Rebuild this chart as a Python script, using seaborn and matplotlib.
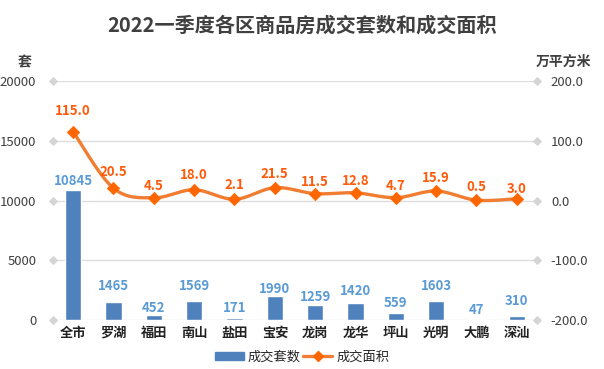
import numpy as np
import pandas as pd
import matplotlib
matplotlib.use("Agg")
import matplotlib.pyplot as plt
import matplotlib.transforms as mtransforms
from matplotlib.patches import Patch
from matplotlib.lines import Line2D
import seaborn as sns

# データ
districts = ["全市", "罗湖", "福田", "南山", "盐田", "宝安", "龙岗", "龙华", "坪山", "光明", "大鹏", "深汕"]
units = [10845, 1465, 452, 1569, 171, 1990, 1259, 1420, 559, 1603, 47, 310]
area = [115.0, 20.5, 4.5, 18.0, 2.1, 21.5, 11.5, 12.8, 4.7, 15.9, 0.5, 3.0]
left_ticks = [0, 5000, 10000, 15000, 20000]
right_ticks = [-200.0, -100.0, 0.0, 100.0, 200.0]

# ラベルの位置調整（ピクセル）
bar_label_off = [9, 16, 7, 15, 10, 7, 8, 12, 10, 15, 9, 15]
line_label_off = [21, 16, 12, 15, 14, 14, 12, 12, 12, 13, 13, 10]

bar_color = "#4F81BD"
line_color = "#F07D32"
marker_color = "#FF6600"
grid_color = "#DDDDDD"
text_color = "#404040"

sns.set_theme(style="white")
plt.rcParams["font.family"] = ["Noto Sans CJK SC", "DejaVu Sans"]

df = pd.DataFrame({"district": districts, "units": units, "area": area})

fig = plt.figure(figsize=(6.04, 3.69), dpi=100)
ax = fig.add_axes([53 / 604, 1 - 320 / 369, (537 - 53) / 604, (320 - 81) / 369])

sns.barplot(data=df, x="district", y="units", color=bar_color, width=0.4,
            saturation=1, ax=ax, zorder=3)
ax.set_ylim(0, 20000)
ax.set_xlim(-0.5, len(districts) - 0.5)
ax.set_yticks(left_ticks)
ax.set_yticklabels([str(t) for t in left_ticks])
ax.set_xlabel("")
ax.set_ylabel("")
for y in left_ticks:
    ax.axhline(y, color=grid_color, lw=1, zorder=0)
for s in ax.spines.values():
    s.set_visible(False)
ax.tick_params(axis="y", length=0, pad=12, labelsize=9.5, labelcolor=text_color)
ax.tick_params(axis="x", length=0, pad=4, labelsize=9.5, labelcolor="#222222")
for lab in ax.get_xticklabels():
    lab.set_fontweight("bold")

# 左右の菱形目盛り
tr_l = mtransforms.blended_transform_factory(ax.transAxes, ax.transData)
ax.scatter([0] * len(left_ticks), left_ticks, marker="D", s=14, color="#D5D5D5",
           transform=tr_l, clip_on=False, zorder=4)
ax.scatter([1] * len(left_ticks), left_ticks, marker="D", s=14, color="#D5D5D5",
           transform=tr_l, clip_on=False, zorder=4)

# 棒のラベル
for i, v in enumerate(units):
    ax.annotate(str(v), (i, v), xytext=(0, bar_label_off[i]), textcoords="offset pixels",
                ha="center", va="center", fontsize=9.5, fontweight="bold", color="#5B9BD5")

# 右軸：成交面积
ax2 = ax.twinx()
ax2.set_ylim(-200, 200)
ax2.set_yticks(right_ticks)
ax2.set_yticklabels([f"{t:.1f}" for t in right_ticks])
for s in ax2.spines.values():
    s.set_visible(False)
ax2.tick_params(axis="y", length=0, pad=10, labelsize=9.5, labelcolor=text_color)
ax2.grid(False)

# 平滑曲線（Catmull-Rom）
xs = np.arange(len(area), dtype=float)
ys = np.array(area)
px = np.concatenate([[xs[0]], xs, [xs[-1]]])
py = np.concatenate([[ys[0]], ys, [ys[-1]]])
cx, cy = [], []
t = np.linspace(0, 1, 30)
for k in range(1, len(px) - 2):
    p0, p1, p2, p3 = [np.array([px[j], py[j]]) for j in (k - 1, k, k + 1, k + 2)]
    c1 = p1 + (p2 - p0) / 6
    c2 = p2 - (p3 - p1) / 6
    pts = ((1 - t)[:, None] ** 3 * p1 + 3 * ((1 - t) ** 2 * t)[:, None] * c1
           + 3 * ((1 - t) * t ** 2)[:, None] * c2 + (t ** 3)[:, None] * p2)
    cx.extend(pts[:, 0])
    cy.extend(pts[:, 1])
ax2.plot(cx, cy, color=line_color, lw=2.4, zorder=3, solid_capstyle="round")
sns.scatterplot(x=xs, y=ys, marker="D", s=40, color=marker_color, edgecolor=marker_color,
                ax=ax2, zorder=4, legend=False)

for i, v in enumerate(area):
    ax2.annotate(f"{v:.1f}", (i, v), xytext=(0, line_label_off[i]), textcoords="offset pixels",
                 ha="center", va="center", fontsize=9.5, fontweight="bold", color="#FF5A0A")

# タイトルと軸タイトル
fig.text(0.5, 1 - 25 / 369, "2022一季度各区商品房成交套数和成交面积", ha="center", va="center",
         fontsize=14.5, fontweight="bold", color=text_color)
fig.text(25 / 604, 1 - 62 / 369, "套", ha="center", va="center", fontsize=10,
         fontweight="bold", color=text_color)
fig.text(563 / 604, 1 - 62 / 369, "万平方米", ha="center", va="center", fontsize=10,
         fontweight="bold", color=text_color)

# 凡例
handles = [Patch(facecolor=bar_color, edgecolor=bar_color),
           Line2D([0], [0], color=line_color, lw=2.4, marker="D", markersize=5,
                  markerfacecolor=marker_color, markeredgecolor=marker_color)]
fig.legend(handles, ["成交套数", "成交面积"], loc="center", bbox_to_anchor=(0.5, 1 - 357 / 369),
           ncol=2, frameon=False, fontsize=9.5, handlelength=2.2, handleheight=0.5,
           columnspacing=0.2, handletextpad=0.3)

fig.savefig("out.png", dpi=100)
